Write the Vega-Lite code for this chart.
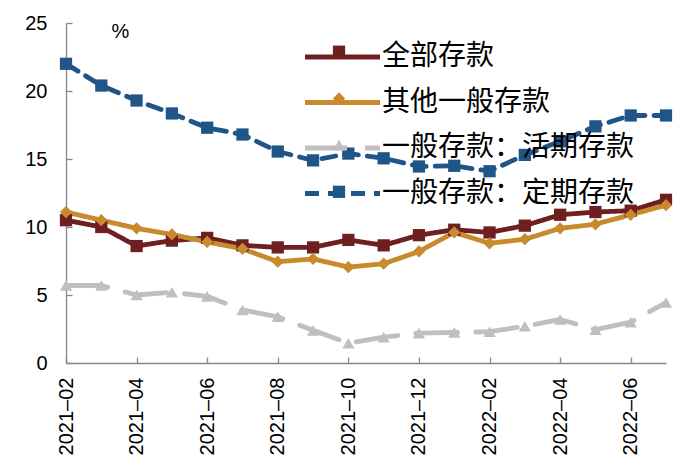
{
  "$schema": "https://vega.github.io/schema/vega-lite/v6.json",
  "width": 600,
  "height": 340,
  "autosize": "none",
  "padding": {"left": 66, "top": 23, "right": 34, "bottom": 106},
  "background": "white",
  "config": {
    "view": {"stroke": null},
    "font": "Liberation Sans",
    "axis": {"grid": false}
  },
  "data": {
    "values": [
      {"m": "2021-02", "s": "全部存款", "v": 10.5},
      {"m": "2021-03", "s": "全部存款", "v": 10.0},
      {"m": "2021-04", "s": "全部存款", "v": 8.6},
      {"m": "2021-05", "s": "全部存款", "v": 9.0},
      {"m": "2021-06", "s": "全部存款", "v": 9.2},
      {"m": "2021-07", "s": "全部存款", "v": 8.65},
      {"m": "2021-08", "s": "全部存款", "v": 8.5},
      {"m": "2021-09", "s": "全部存款", "v": 8.5},
      {"m": "2021-10", "s": "全部存款", "v": 9.05},
      {"m": "2021-11", "s": "全部存款", "v": 8.65},
      {"m": "2021-12", "s": "全部存款", "v": 9.4},
      {"m": "2022-01", "s": "全部存款", "v": 9.8},
      {"m": "2022-02", "s": "全部存款", "v": 9.6},
      {"m": "2022-03", "s": "全部存款", "v": 10.1},
      {"m": "2022-04", "s": "全部存款", "v": 10.9},
      {"m": "2022-05", "s": "全部存款", "v": 11.1},
      {"m": "2022-06", "s": "全部存款", "v": 11.2},
      {"m": "2022-07", "s": "全部存款", "v": 12.0},
      {"m": "2021-02", "s": "其他一般存款", "v": 11.1},
      {"m": "2021-03", "s": "其他一般存款", "v": 10.5},
      {"m": "2021-04", "s": "其他一般存款", "v": 9.9},
      {"m": "2021-05", "s": "其他一般存款", "v": 9.45},
      {"m": "2021-06", "s": "其他一般存款", "v": 8.9},
      {"m": "2021-07", "s": "其他一般存款", "v": 8.4},
      {"m": "2021-08", "s": "其他一般存款", "v": 7.45},
      {"m": "2021-09", "s": "其他一般存款", "v": 7.65},
      {"m": "2021-10", "s": "其他一般存款", "v": 7.05},
      {"m": "2021-11", "s": "其他一般存款", "v": 7.3},
      {"m": "2021-12", "s": "其他一般存款", "v": 8.2},
      {"m": "2022-01", "s": "其他一般存款", "v": 9.6},
      {"m": "2022-02", "s": "其他一般存款", "v": 8.8},
      {"m": "2022-03", "s": "其他一般存款", "v": 9.1},
      {"m": "2022-04", "s": "其他一般存款", "v": 9.9},
      {"m": "2022-05", "s": "其他一般存款", "v": 10.2},
      {"m": "2022-06", "s": "其他一般存款", "v": 10.9},
      {"m": "2022-07", "s": "其他一般存款", "v": 11.6},
      {"m": "2021-02", "s": "一般存款：活期存款", "v": 5.7},
      {"m": "2021-03", "s": "一般存款：活期存款", "v": 5.7},
      {"m": "2021-04", "s": "一般存款：活期存款", "v": 5.0},
      {"m": "2021-05", "s": "一般存款：活期存款", "v": 5.2},
      {"m": "2021-06", "s": "一般存款：活期存款", "v": 4.9},
      {"m": "2021-07", "s": "一般存款：活期存款", "v": 3.9},
      {"m": "2021-08", "s": "一般存款：活期存款", "v": 3.4},
      {"m": "2021-09", "s": "一般存款：活期存款", "v": 2.4},
      {"m": "2021-10", "s": "一般存款：活期存款", "v": 1.45},
      {"m": "2021-11", "s": "一般存款：活期存款", "v": 1.9},
      {"m": "2021-12", "s": "一般存款：活期存款", "v": 2.2},
      {"m": "2022-01", "s": "一般存款：活期存款", "v": 2.25},
      {"m": "2022-02", "s": "一般存款：活期存款", "v": 2.3},
      {"m": "2022-03", "s": "一般存款：活期存款", "v": 2.7},
      {"m": "2022-04", "s": "一般存款：活期存款", "v": 3.2},
      {"m": "2022-05", "s": "一般存款：活期存款", "v": 2.45},
      {"m": "2022-06", "s": "一般存款：活期存款", "v": 3.0},
      {"m": "2022-07", "s": "一般存款：活期存款", "v": 4.45},
      {"m": "2021-02", "s": "一般存款：定期存款", "v": 22.0},
      {"m": "2021-03", "s": "一般存款：定期存款", "v": 20.4},
      {"m": "2021-04", "s": "一般存款：定期存款", "v": 19.3},
      {"m": "2021-05", "s": "一般存款：定期存款", "v": 18.35},
      {"m": "2021-06", "s": "一般存款：定期存款", "v": 17.3},
      {"m": "2021-07", "s": "一般存款：定期存款", "v": 16.8},
      {"m": "2021-08", "s": "一般存款：定期存款", "v": 15.55},
      {"m": "2021-09", "s": "一般存款：定期存款", "v": 14.9},
      {"m": "2021-10", "s": "一般存款：定期存款", "v": 15.4},
      {"m": "2021-11", "s": "一般存款：定期存款", "v": 15.05},
      {"m": "2021-12", "s": "一般存款：定期存款", "v": 14.45},
      {"m": "2022-01", "s": "一般存款：定期存款", "v": 14.5},
      {"m": "2022-02", "s": "一般存款：定期存款", "v": 14.1},
      {"m": "2022-03", "s": "一般存款：定期存款", "v": 15.3},
      {"m": "2022-04", "s": "一般存款：定期存款", "v": 16.3},
      {"m": "2022-05", "s": "一般存款：定期存款", "v": 17.4},
      {"m": "2022-06", "s": "一般存款：定期存款", "v": 18.2},
      {"m": "2022-07", "s": "一般存款：定期存款", "v": 18.2}
    ]
  },
  "encoding": {
    "x": {
      "field": "m",
      "type": "ordinal",
      "sort": null,
      "scale": {"type": "point", "padding": 0},
      "axis": {
        "title": null,
        "values": ["2021-02", "2021-04", "2021-06", "2021-08", "2021-10", "2021-12", "2022-02", "2022-04", "2022-06"],
        "labelExpr": "replace(datum.label, '-', '–')",
        "labelAngle": 270,
        "labelAlign": "right",
        "labelBaseline": "middle",
        "labelFontSize": 20,
        "labelColor": "#000000",
        "labelPadding": 20,
        "tickSize": -6,
        "tickColor": "#888888",
        "domainColor": "#888888",
        "domainWidth": 1.3,
        "tickWidth": 1.3
      }
    },
    "y": {
      "field": "v",
      "type": "quantitative",
      "scale": {"domain": [0, 25], "nice": false, "zero": true},
      "axis": {
        "title": "%",
        "titleAngle": 0,
        "titleX": 54,
        "titleY": 8,
        "titleAlign": "center",
        "titleBaseline": "middle",
        "titleFontSize": 20,
        "titleFontWeight": "normal",
        "titleColor": "#000000",
        "values": [0, 5, 10, 15, 20, 25],
        "labelFontSize": 20,
        "labelColor": "#000000",
        "labelPadding": 25,
        "tickSize": -6,
        "tickColor": "#888888",
        "domainColor": "#888888",
        "domainWidth": 1.3,
        "tickWidth": 1.3
      }
    }
  },
  "layer": [
    {
      "mark": {"type": "line", "strokeWidth": 4.8, "strokeCap": "round", "strokeJoin": "round"},
      "encoding": {
        "color": {
          "field": "s",
          "type": "nominal",
          "sort": null,
          "scale": {"range": ["#6E2020", "#C98A2E", "#BFBFBF", "#1F5687"]},
          "legend": {
            "orient": "none",
            "legendX": 262,
            "legendY": 19.5,
            "direction": "vertical",
            "title": null,
            "symbolType": "M-3.125,0H3.125",
            "symbolSize": 576,
            "symbolStrokeWidth": 4.8,
            "labelFont": "Noto Sans CJK SC",
            "labelFontSize": 28,
            "labelColor": "#000000",
            "labelOffset": 25,
            "labelLimit": 400,
            "rowPadding": 16.5
          }
        },
        "strokeDash": {
          "field": "s",
          "type": "nominal",
          "sort": null,
          "scale": {"range": [[1, 0], [1, 0], [42, 18], [14, 9]]},
          "legend": {
            "orient": "none",
            "legendX": 262,
            "legendY": 19.5,
            "direction": "vertical",
            "title": null,
            "symbolType": "M-3.125,0H3.125",
            "symbolSize": 576,
            "symbolStrokeWidth": 4.8,
            "labelFont": "Noto Sans CJK SC",
            "labelFontSize": 28,
            "labelColor": "#000000",
            "labelOffset": 25,
            "labelLimit": 400,
            "rowPadding": 16.5
          }
        }
      }
    },
    {
      "mark": {"type": "point", "filled": true, "opacity": 1, "size": 150, "strokeWidth": 0},
      "encoding": {
        "fill": {
          "field": "s",
          "type": "nominal",
          "scale": {
            "domain": ["全部存款", "其他一般存款", "一般存款：活期存款", "一般存款：定期存款"],
            "range": ["#6E2020", "#C98A2E", "#BFBFBF", "#1F5687"]
          },
          "legend": {
            "orient": "none",
            "legendX": 259,
            "legendY": 14.7,
            "direction": "vertical",
            "title": null,
            "symbolSize": 150,
            "symbolStrokeWidth": 0,
            "labelExpr": "''",
            "labelFontSize": 28,
            "labelOffset": 0,
            "rowPadding": 18.7
          }
        },
        "shape": {
          "field": "s",
          "type": "nominal",
          "scale": {
            "domain": ["全部存款", "其他一般存款", "一般存款：活期存款", "一般存款：定期存款"],
            "range": ["square", "diamond", "triangle-up", "square"]
          },
          "legend": {
            "orient": "none",
            "legendX": 259,
            "legendY": 14.7,
            "direction": "vertical",
            "title": null,
            "symbolSize": 150,
            "symbolStrokeWidth": 0,
            "labelExpr": "''",
            "labelFontSize": 28,
            "labelOffset": 0,
            "rowPadding": 18.7
          }
        }
      }
    }
  ]
}
